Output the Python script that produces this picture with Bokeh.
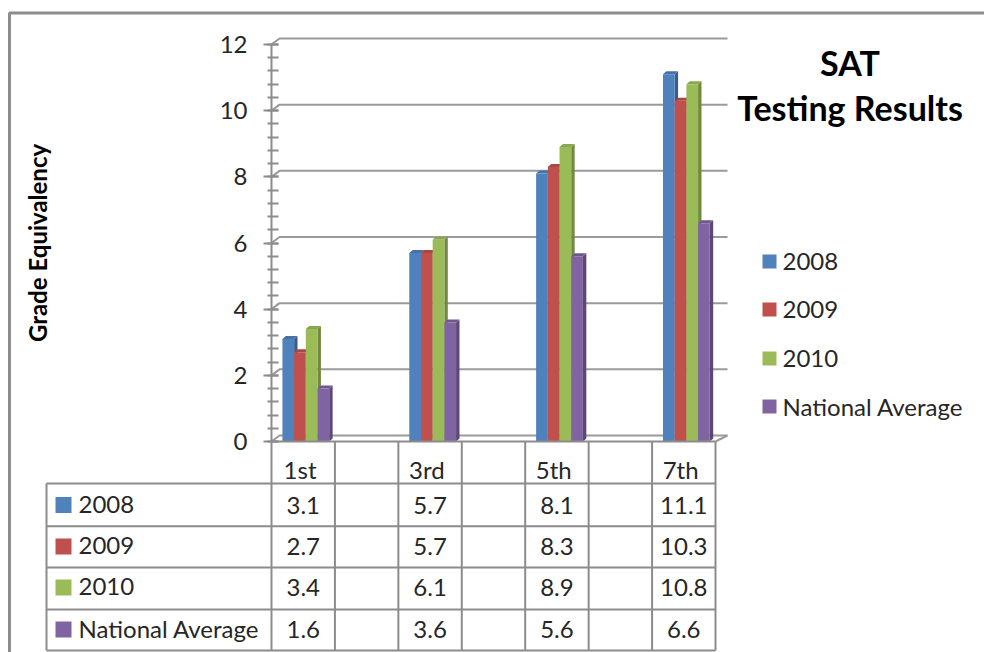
from bokeh.embed import file_html
from bokeh.resources import INLINE
from bokeh.plotting import figure
from bokeh.models import Range1d, FixedTicker
from bokeh.core.properties import value

# ---- data ----
grades = ["1st", "", "3rd", "", "5th", "", "7th"]
series_names = ["2008", "2009", "2010", "National Average"]
v2008 = [3.1, None, 5.7, None, 8.1, None, 11.1]
v2009 = [2.7, None, 5.7, None, 8.3, None, 10.3]
v2010 = [3.4, None, 6.1, None, 8.9, None, 10.8]
vnat = [1.6, None, 3.6, None, 5.6, None, 6.6]
series_values = [v2008, v2009, v2010, vnat]
y_ticks = [0, 2, 4, 6, 8, 10, 12]
colors = ["#4f81bd", "#c0504d", "#9bbb59", "#8064a2"]
side_colors = ["#385d8a", "#8c3836", "#71893f", "#5c4776"]
top_colors = ["#4672a8", "#a94745", "#8aa74e", "#6f5790"]
title_lines = ["SAT", "Testing Results"]
y_title = "Grade Equivalency"

# ---- layout: the frame fills the page, scales anchored on the plot box ----
W, H = 984, 652
X0, X7 = 271.0, 715.0      # pixel of x = 0 and x = 7
Y0, Y12 = 441.0, 44.0      # pixel of y = 0 and y = 12
ux = (X7 - X0) / 7
uy = (Y0 - Y12) / 12
def X(px): return (px - X0) / ux
def Y(py): return (Y0 - py) / uy

FONT = "Lato"
GREY = "#8c8c8c"
TXT = "#262626"
FS = "24px"

p = figure(width=W, height=H, output_backend="svg", toolbar_location=None,
           x_range=Range1d(X(0), X(W)), y_range=Range1d(Y(H), Y(0)),
           min_border=0, outline_line_color=None, background_fill_color="white",
           border_fill_color="white")
p.styles = {"position": "absolute", "left": "0", "top": "0"}
p.grid.visible = False

# outer chart border
p.line([X(W), X(9), X(9)], [Y(12.5), Y(12.5), Y(H)], line_color=GREY, line_width=3)

# 3D back wall and floor
wall_dx, wall_dy = 8 / ux, 6 / uy
wall_right = 7 + 12 / ux
gx, gy = [], []
for t in y_ticks:
    gx.append([0, wall_dx, wall_right])
    gy.append([t, t + wall_dy, t + wall_dy])
p.multi_line(gx, gy, line_color="#9a9a9a", line_width=2)
p.line([7, wall_right], [0, wall_dy], line_color="#9a9a9a", line_width=2)

# bars
bar_w = 11.7 / ux
depth_x, depth_y = 3.4 / ux, 3.0 / uy
group_shift = 2.6 / ux
for i, vals in enumerate(series_values):
    lefts, rights, tops = [], [], []
    for k, v in enumerate(vals):
        if v is None:
            continue
        c = k + 0.5 + group_shift
        l = c - 2 * bar_w + i * bar_w
        lefts.append(l); rights.append(l + bar_w); tops.append(v)
    side_x = [[r, r + depth_x, r + depth_x, r] for r in rights]
    side_y = [[0, depth_y, t + depth_y, t] for t in tops]
    top_x = [[l, l + depth_x, r + depth_x, r] for l, r in zip(lefts, rights)]
    top_y = [[t, t + depth_y, t + depth_y, t] for t in tops]
    p.patches(side_x, side_y, fill_color=side_colors[i], line_color=None)
    p.patches(top_x, top_y, fill_color=top_colors[i], line_color=None)
    p.quad(left=lefts, right=rights, bottom=0, top=tops, fill_color=colors[i], line_color=None)

# y axis
ya = p.yaxis[0]
ya.fixed_location = 0
ya.bounds = (0, 12)
ya.ticker = FixedTicker(ticks=y_ticks, minor_ticks=[t / 10 * 4 for t in range(0, 31)])
ya.axis_line_color = GREY
ya.axis_line_width = 2
ya.major_tick_line_color = GREY
ya.major_tick_line_width = 2
ya.minor_tick_line_color = GREY
ya.minor_tick_line_width = 2
ya.major_tick_in = 7
ya.major_tick_out = 8
ya.minor_tick_in = 7
ya.minor_tick_out = 4
ya.major_label_standoff = 16
ya.major_label_text_font = FONT
ya.major_label_text_font_size = FS
ya.major_label_text_color = TXT
ya.axis_label = y_title
ya.axis_label_text_font = FONT
ya.axis_label_text_font_size = "24px"
ya.axis_label_text_font_style = "bold"
ya.axis_label_text_color = "#000000"
ya.axis_label_standoff = 165

# x axis: category row of the data table
xa = p.xaxis[0]
xa.fixed_location = 0
xa.bounds = (0, 7)
label_pos = {k + 0.45: g for k, g in enumerate(grades) if g}
xa.ticker = FixedTicker(ticks=list(label_pos))
xa.major_label_overrides = label_pos
xa.axis_line_color = GREY
xa.axis_line_width = 2
xa.major_tick_line_color = None
xa.minor_tick_line_color = None
xa.major_label_standoff = 7
xa.major_label_text_font = FONT
xa.major_label_text_font_size = FS
xa.major_label_text_color = TXT

# data table rules
row_py = [483, 525.7, 567, 609, 650]
for py in row_py:
    p.line([X(46), 7], [Y(py), Y(py)], line_color=GREY, line_width=2)
p.line([X(46), X(46)], [Y(row_py[0]), Y(row_py[-1])], line_color=GREY, line_width=2)
for k in range(len(grades) + 1):
    p.line([k, k], [0, Y(row_py[-1])], line_color=GREY, line_width=2)

# data table contents
row_text_py = [504.5, 546, 587, 629]
for i, name in enumerate(series_names):
    yc = Y(row_text_py[i])
    p.quad(left=[X(55)], right=[X(71)], top=[Y(row_text_py[i] - 8)], bottom=[Y(row_text_py[i] + 8)],
           fill_color=colors[i], line_color=None)
    p.text([X(78)], [Y(row_text_py[i] - 1)], text=[name], text_font=value(FONT), text_font_size=FS,
           text_color=TXT, text_align="left", text_baseline="middle")
    xs = [k + 0.5 for k, v in enumerate(series_values[i]) if v is not None]
    ys = [yc] * len(xs)
    ts = ["%.1f" % v for v in series_values[i] if v is not None]
    p.text(xs, ys, text=ts, text_font=value(FONT), text_font_size=FS,
           text_color=TXT, text_align="center", text_baseline="middle")

# right legend
leg_py = [261, 309, 358, 406]
for i, name in enumerate(series_names):
    p.quad(left=[X(762)], right=[X(776)], top=[Y(leg_py[i] - 7)], bottom=[Y(leg_py[i] + 7)],
           fill_color=colors[i], line_color=None)
    p.text([X(782)], [Y(leg_py[i])], text=[name], text_font=value(FONT), text_font_size=FS,
           text_color=TXT, text_align="left", text_baseline="middle")

# title
for line, py in zip(title_lines, [62, 107]):
    p.text([X(849.5)], [Y(py)], text=[line], text_font=value(FONT), text_font_size="34px",
           text_font_style="bold", text_color="#000000", text_align="center", text_baseline="middle")

open("out.html", "w").write(file_html(p, INLINE))
